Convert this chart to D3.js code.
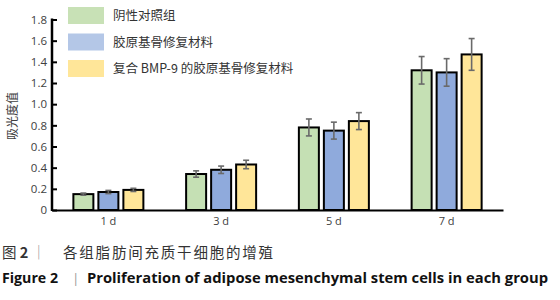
<!DOCTYPE html>
<html>
<head>
<meta charset="utf-8">
<script src="https://cdn.jsdelivr.net/npm/d3@7"></script>
<style>
  body { margin: 0; background: #fff; }
  svg { display: block; }
</style>
</head>
<body>
<div id="chart"></div>
<script>
// values
const days = ["1 d", "3 d", "5 d", "7 d"];
const groups = ["阴性对照组", "胶原基骨修复材料", "复合 BMP-9 的胶原基骨修复材料"];
const control = [0.15, 0.34, 0.78, 1.32];
const collagen = [0.17, 0.38, 0.75, 1.30];
const bmp9 = [0.19, 0.43, 0.84, 1.47];
const controlErr = [0.01, 0.03, 0.08, 0.13];
const collagenErr = [0.015, 0.035, 0.08, 0.13];
const bmp9Err = [0.015, 0.04, 0.08, 0.15];
const yTicks = [0, 0.2, 0.4, 0.6, 0.8, 1.0, 1.2, 1.4, 1.6, 1.8];

const barColors = ["#c5e0b4", "#8faadc", "#ffe699"];
const swatchColors = ["#c8e1b6", "#b4c7e7", "#ffe699"];

const width = 560, height = 300;
const svg = d3.select("#chart").append("svg")
    .attr("width", width)
    .attr("height", height);

const x0 = d3.scaleBand().domain(days).range([52, 503]).padding(0);
const x1 = d3.scaleBand().domain(d3.range(3))
    .range([x0.bandwidth() / 2 - 35, x0.bandwidth() / 2 + 35])
    .paddingInner(0.2);
const y = d3.scaleLinear().domain([0, 1.8]).range([210, 19.5]);

const series = [control, collagen, bmp9];
const errs = [controlErr, collagenErr, bmp9Err];
const rows = [];
days.forEach((d, i) => {
  series.forEach((s, k) => rows.push({day: d, k: k, v: s[i], e: errs[k][i]}));
});

// bars
svg.append("g").selectAll("rect")
  .data(rows)
  .join("rect")
    .attr("x", d => x0(d.day) + x1(d.k))
    .attr("y", d => y(d.v))
    .attr("width", x1.bandwidth())
    .attr("height", d => y(0) - y(d.v))
    .attr("fill", d => barColors[d.k])
    .attr("stroke", "#000")
    .attr("stroke-width", 2);

// error bars
const eb = svg.append("g")
    .attr("stroke", "#6a6a6a")
    .attr("stroke-width", 1.6)
    .selectAll("g")
  .data(rows)
  .join("g")
    .attr("transform", d => `translate(${x0(d.day) + x1(d.k) + x1.bandwidth() / 2},0)`);
eb.append("line").attr("y1", d => y(d.v - d.e)).attr("y2", d => y(d.v + d.e));
eb.append("line").attr("x1", -3).attr("x2", 3).attr("y1", d => y(d.v + d.e)).attr("y2", d => y(d.v + d.e));
eb.append("line").attr("x1", -3).attr("x2", 3).attr("y1", d => y(d.v - d.e)).attr("y2", d => y(d.v - d.e));

// y axis
const yAxis = d3.axisRight(y)
    .tickValues(yTicks)
    .tickSize(5)
    .tickFormat(d => d === 0 ? "0" : d.toFixed(1));
svg.append("g")
    .attr("transform", "translate(52,0)")
    .call(yAxis)
    .call(g => g.select(".domain").remove())
    .call(g => g.selectAll(".tick line").attr("stroke", "#000").attr("stroke-width", 2))
    .call(g => g.selectAll(".tick text")
        .attr("x", -5)
        .attr("text-anchor", "end")
        .attr("fill", "#404040")
        .attr("font-family", "Open Sans, sans-serif")
        .attr("font-size", 11.5));
svg.append("line")
    .attr("x1", 52).attr("x2", 52)
    .attr("y1", y(1.8) - 1).attr("y2", y(0) + 1)
    .attr("stroke", "#000").attr("stroke-width", 2.5);

// x axis
const xAxis = d3.axisBottom(x0).tickSize(0).tickSizeOuter(0);
svg.append("g")
    .attr("transform", `translate(0,${y(0)})`)
    .call(xAxis)
    .call(g => g.select(".domain").attr("stroke", "#000").attr("stroke-width", 2))
    .call(g => g.selectAll(".tick text")
        .attr("dy", "1.05em")
        .attr("fill", "#404040")
        .attr("font-family", "Open Sans, sans-serif")
        .attr("font-size", 11));

// y label
svg.append("text")
    .attr("transform", "translate(17,116) rotate(-90)")
    .attr("text-anchor", "middle")
    .attr("fill", "#404040")
    .attr("font-family", "Noto Sans CJK SC")
    .attr("font-size", 12)
    .text("吸光度值");

// legend
const legend = svg.append("g").selectAll("g")
  .data(groups)
  .join("g")
    .attr("transform", (d, i) => `translate(68,${7 + i * 26.5})`);
legend.append("rect")
    .attr("width", 36).attr("height", 17)
    .attr("fill", (d, i) => swatchColors[i]);
legend.append("text")
    .attr("x", 45).attr("y", 13)
    .attr("fill", "#333")
    .attr("font-family", "Noto Sans CJK SC")
    .attr("font-size", 12.5)
    .text(d => d);

// captions
const cap1 = svg.append("text")
    .attr("x", 2).attr("y", 258)
    .attr("fill", "#333")
    .attr("font-family", "Noto Sans CJK SC")
    .attr("font-size", 14.5);
cap1.append("tspan").text("图 ");
cap1.append("tspan").attr("font-weight", "bold").text("2");
cap1.append("tspan").attr("fill", "#999").text(" ｜ ");
cap1.append("tspan").attr("x", 63).attr("letter-spacing", 1.8).text("各组脂肪间充质干细胞的增殖");

const cap2 = svg.append("text")
    .attr("x", 2).attr("y", 283)
    .attr("fill", "#111")
    .attr("font-family", "Open Sans, sans-serif")
    .attr("font-weight", "bold")
    .attr("font-size", 13.5);
cap2.append("tspan").attr("textLength", 56).attr("lengthAdjust", "spacingAndGlyphs").text("Figure 2");
cap2.append("tspan").attr("x", 72).attr("fill", "#999").attr("font-weight", "normal").text("|");
cap2.append("tspan").attr("x", 87).attr("textLength", 461).attr("lengthAdjust", "spacingAndGlyphs")
    .text("Proliferation of adipose mesenchymal stem cells in each group");
</script>
</body>
</html>
